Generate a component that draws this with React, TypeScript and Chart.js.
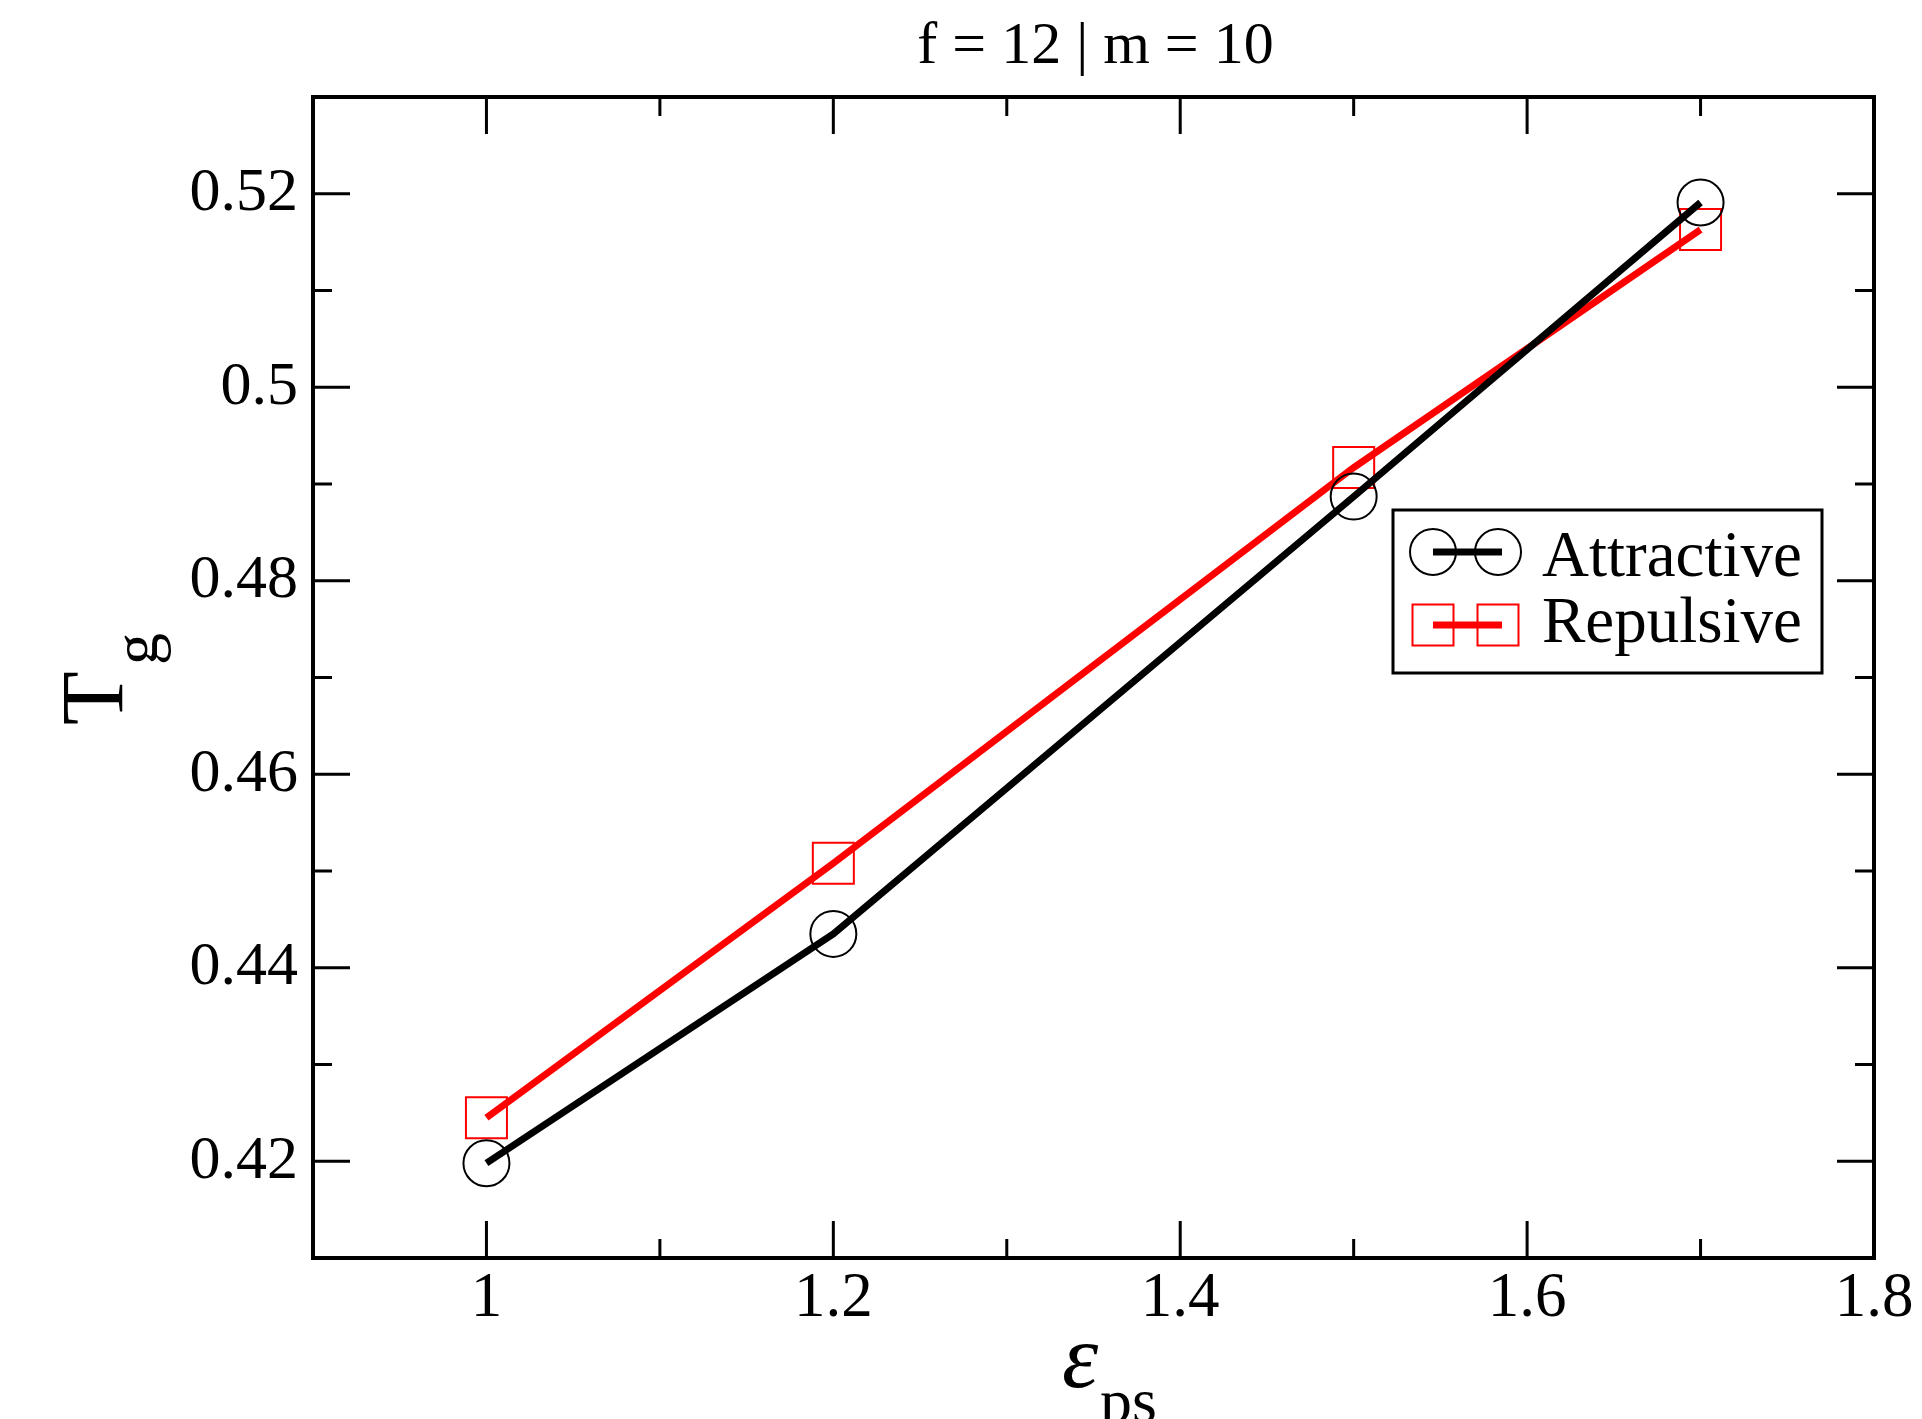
import React, { useEffect, useRef } from 'react';
import { Chart, registerables } from 'chart.js';

Chart.register(...registerables);

// ---- data ----
const epsPs = [1, 1.2, 1.5, 1.7];
const attractiveTg = [0.4198, 0.4435, 0.4887, 0.5191];
const repulsiveTg = [0.4245, 0.4508, 0.4917, 0.5163];
const seriesLabels = ['Attractive', 'Repulsive'];
const seriesColors = ['#000000', '#ff0000'];

const xMajorTicks = [1, 1.2, 1.4, 1.6, 1.8];
const xMajorLabels = ['1', '1.2', '1.4', '1.6', '1.8'];
const xMinorTicks = [1.1, 1.3, 1.5, 1.7];
const yMajorTicks = [0.42, 0.44, 0.46, 0.48, 0.5, 0.52];
const yMajorLabels = ['0.42', '0.44', '0.46', '0.48', '0.5', '0.52'];
const yMinorTicks = [0.43, 0.45, 0.47, 0.49, 0.51];

const titleText = 'f = 12 | m = 10';
const FONT = '"Liberation Serif", "Times New Roman", serif';

const W = 1922;
const H = 1419;

const framePlugin = {
  id: 'framePlugin',
  afterDraw(chart: any) {
    const { ctx, chartArea } = chart;
    const { left, right, top, bottom } = chartArea;
    const xs = chart.scales.x;
    const ys = chart.scales.y;
    ctx.save();
    ctx.strokeStyle = '#000';
    ctx.lineCap = 'butt';
    ctx.lineWidth = 3;
    const major = 37;
    const minor = 19;
    const drawX = (v: number, len: number) => {
      const px = xs.getPixelForValue(v);
      ctx.beginPath();
      ctx.moveTo(px, bottom);
      ctx.lineTo(px, bottom - len);
      ctx.moveTo(px, top);
      ctx.lineTo(px, top + len);
      ctx.stroke();
    };
    const drawY = (v: number, len: number) => {
      const py = ys.getPixelForValue(v);
      ctx.beginPath();
      ctx.moveTo(left, py);
      ctx.lineTo(left + len, py);
      ctx.moveTo(right, py);
      ctx.lineTo(right - len, py);
      ctx.stroke();
    };
    xMajorTicks.forEach((v) => drawX(v, major));
    xMinorTicks.forEach((v) => drawX(v, minor));
    yMajorTicks.forEach((v) => drawY(v, major));
    yMinorTicks.forEach((v) => drawY(v, minor));

    ctx.lineWidth = 4;
    ctx.strokeRect(left, top, right - left, bottom - top);

    // title
    ctx.fillStyle = '#000';
    ctx.font = `60px ${FONT}`;
    ctx.textAlign = 'center';
    ctx.textBaseline = 'alphabetic';
    ctx.fillText(titleText, (left + right) / 2 + 2, 63);

    // x axis title: epsilon_ps
    ctx.textAlign = 'left';
    ctx.font = `italic 92px ${FONT}`;
    ctx.fillText('\u03b5', 1062, 1387);
    ctx.font = `64px ${FONT}`;
    ctx.fillText('ps', 1100, 1422);

    // y axis title: T_g (rotated)
    ctx.save();
    ctx.translate(122, 725);
    ctx.rotate(-Math.PI / 2);
    ctx.font = `88px ${FONT}`;
    ctx.fillText('T', 0, 0);
    ctx.font = `64px ${FONT}`;
    ctx.fillText('g', 60, 35);
    ctx.restore();

    // legend
    const bx = 1393, by = 510, bw = 429, bh = 163;
    ctx.fillStyle = '#fff';
    ctx.fillRect(bx, by, bw, bh);
    ctx.lineWidth = 3;
    ctx.strokeStyle = '#000';
    ctx.strokeRect(bx, by, bw, bh);

    const rows = [
      { cy: 552, base: 576 },
      { cy: 625, base: 642 },
    ];
    const m1 = 1433, m2 = 1498;
    seriesLabels.forEach((label, i) => {
      const { cy, base } = rows[i];
      const col = seriesColors[i];
      ctx.strokeStyle = col;
      ctx.lineWidth = 7;
      ctx.beginPath();
      ctx.moveTo(m1, cy);
      ctx.lineTo(m2 + 4, cy);
      ctx.stroke();
      ctx.lineWidth = 2;
      [m1, m2].forEach((mx) => {
        ctx.beginPath();
        if (i === 0) {
          ctx.arc(mx, cy, 23, 0, Math.PI * 2);
        } else {
          ctx.rect(mx - 20.5, cy - 20.5, 41, 41);
        }
        ctx.stroke();
      });
      ctx.fillStyle = '#000';
      ctx.font = `65px ${FONT}`;
      ctx.textAlign = 'left';
      ctx.textBaseline = 'alphabetic';
      ctx.fillText(label, 1542, base);
    });
    ctx.restore();
  },
};

export default function App() {
  const ref = useRef<HTMLCanvasElement | null>(null);
  useEffect(() => {
    document.body.style.margin = '0';
    document.body.style.overflow = 'hidden';
    const canvas = ref.current;
    if (!canvas) return;
    const makeData = (ys: number[]) => epsPs.map((x, i) => ({ x, y: ys[i] }));
    const chart = new Chart(canvas, {
      type: 'line',
      data: {
        datasets: [
          {
            label: seriesLabels[0],
            data: makeData(attractiveTg),
            borderColor: seriesColors[0],
            borderWidth: 7,
            pointStyle: 'circle',
            pointRadius: 23,
            pointHoverRadius: 23,
            pointBorderWidth: 2,
            pointBorderColor: seriesColors[0],
            pointBackgroundColor: 'rgba(0,0,0,0)',
            fill: false,
            tension: 0,
            clip: false,
          },
          {
            label: seriesLabels[1],
            data: makeData(repulsiveTg),
            borderColor: seriesColors[1],
            borderWidth: 7,
            pointStyle: 'rect',
            pointRadius: 29,
            pointHoverRadius: 29,
            pointBorderWidth: 2,
            pointBorderColor: seriesColors[1],
            pointBackgroundColor: 'rgba(0,0,0,0)',
            fill: false,
            tension: 0,
            clip: false,
          },
        ],
      },
      options: {
        responsive: false,
        animation: false,
        events: [],
        layout: { padding: { top: 97, right: 48, bottom: 0, left: 0 } },
        plugins: {
          legend: { display: false },
          title: { display: false },
          tooltip: { enabled: false },
        },
        scales: {
          x: {
            type: 'linear',
            min: 0.9,
            max: 1.8,
            grid: { display: false, drawTicks: false },
            border: { display: false },
            afterBuildTicks: (s: any) => {
              s.ticks = xMajorTicks.map((v) => ({ value: v }));
            },
            afterFit: (s: any) => {
              s.height = H - 1258;
            },
            ticks: {
              autoSkip: false,
              maxRotation: 0,
              padding: 4,
              color: '#000',
              font: { family: FONT, size: 63 },
              callback: (_v: any, i: number) => xMajorLabels[i],
            },
          },
          y: {
            type: 'linear',
            min: 0.41,
            max: 0.53,
            grid: { display: false, drawTicks: false },
            border: { display: false },
            afterBuildTicks: (s: any) => {
              s.ticks = yMajorTicks.map((v) => ({ value: v }));
            },
            afterFit: (s: any) => {
              s.width = 313;
            },
            ticks: {
              autoSkip: false,
              padding: 15,
              color: '#000',
              font: { family: FONT, size: 62 },
              callback: (_v: any, i: number) => yMajorLabels[i],
            },
          },
        },
      },
      plugins: [framePlugin],
    } as any);
    return () => chart.destroy();
  }, []);
  return (
    <canvas
      ref={ref}
      width={W}
      height={H}
      style={{ display: 'block', width: W, height: H }}
    />
  );
}
